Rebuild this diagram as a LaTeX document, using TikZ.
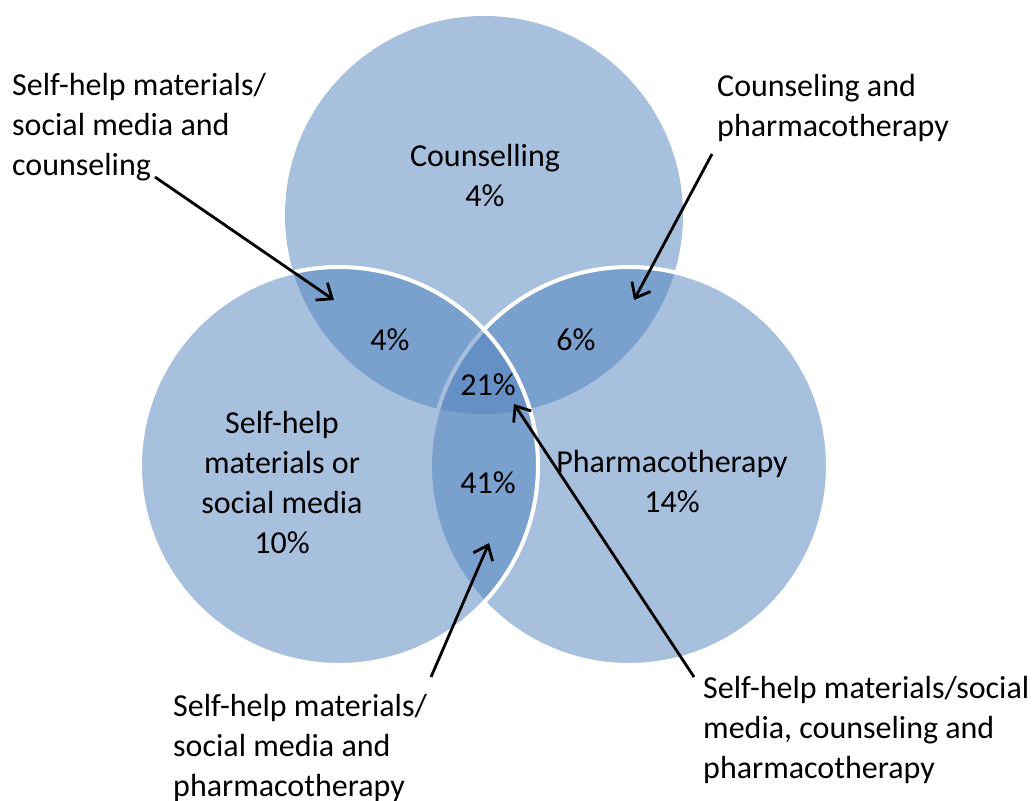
\documentclass[tikz,border=0pt]{standalone}
\usepackage{fontspec}
\setmainfont{Carlito}
\usepackage{xcolor}
\usetikzlibrary{arrows.meta,positioning}
\definecolor{vennblue}{RGB}{79,129,189}
\def\vennsize{398pt}

\begin{document}
\begin{tikzpicture}[x=1pt,y=-1pt,font=\fontsize{32}{40}\selectfont]
    \tikzstyle{set}=[circle,minimum size=\vennsize,inner sep=0pt,fill=vennblue,fill opacity=0.5]
    \tikzstyle{outlined set}=[set,draw=white,line width=4pt]
    \tikzstyle{share}=[align=center,inner sep=0pt]
    \tikzstyle{callout}=[align=left,inner sep=0pt,anchor=north west]
    \tikzstyle{pointer}=[-{Straight Barb[length=13pt,width=21pt]},line width=2.8pt]

    \useasboundingbox (0,0) rectangle (1032,800);

    % Draw the three sets
    \node[set] (C) at (484,215) {};
    \node[outlined set] (P) at (629,466) {};
    \node[outlined set] (S) at (339,466) {};

    % Names of the single sets
    \node[share,anchor=north] (C-name) at (485,144) {Counselling\\4\%};
    \node[share,anchor=north] (S-name) at (282,411) {Self-help\\materials or\\social media\\10\%};
    \node[share,anchor=north] (P-name) at (672,450) {Pharmacotherapy\\14\%};

    % Shares of the overlaps
    \foreach \name / \x / \y / \pct in {SC/390/340/4, CP/576/340/6, SCP/488/385/21, SP/488/483/41}
        \node[share] (O-\name) at (\x,\y) {\pct\%};

    % Callouts
    \node[callout] (L-SC) at (12,73) {Self-help materials/\\social media and\\counseling};
    \node[callout] (L-CP) at (717,74) {Counseling and\\pharmacotherapy};
    \node[callout] (L-SP) at (173,694) {Self-help materials/\\social media and\\pharmacotherapy};
    \node[callout] (L-SCP) at (703,676) {Self-help materials/social\\media, counseling and\\pharmacotherapy};

    % Arrows from the callouts into the overlaps
    \foreach \name / \tx / \ty / \hx / \hy in {SC/155/177/334/300, CP/712/154/634/300, SP/431/677/489/543, SCP/694/677/514/404}
    {
        \coordinate (T-\name) at (\tx,\ty);
        \coordinate (H-\name) at (\hx,\hy);
        \draw[pointer] (T-\name) -- (H-\name);
    }

\end{tikzpicture}
\end{document}
